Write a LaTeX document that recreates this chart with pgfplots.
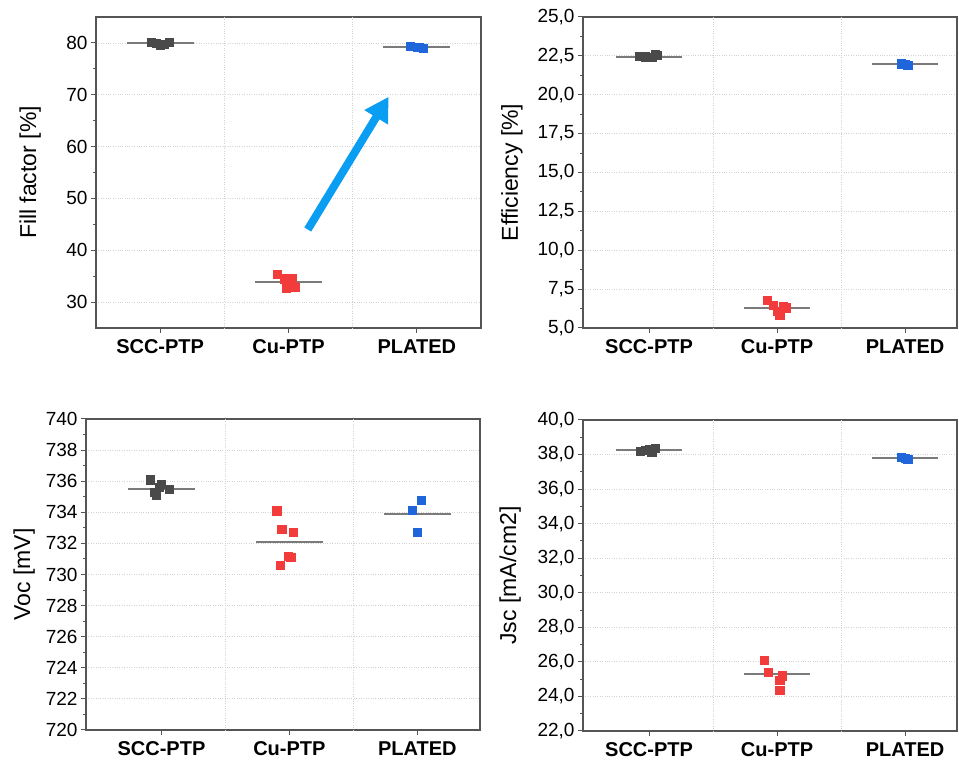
\documentclass[border=0pt]{standalone}
\usepackage{fontspec}
\setmainfont{Liberation Sans}
\usepackage{pgfplots}
\pgfplotsset{compat=1.18}
\usetikzlibrary{arrows.meta}
\definecolor{axisgray}{HTML}{555555}
\definecolor{gridgray}{HTML}{D2D2D2}
\definecolor{medgray}{HTML}{7A7A7A}
\definecolor{sccgray}{HTML}{4A4A4A}
\definecolor{cured}{HTML}{F23B3B}
\definecolor{platblue}{HTML}{1F66DA}
\definecolor{arrowblue}{HTML}{0A9EF2}
\pgfplotsset{
  myaxis/.style={
    scale only axis,
    axis line style={draw=axisgray, line width=1.3bp},
    tick style={draw=axisgray, line width=1bp},
    tick align=outside,
    tick pos=left,
    major tick length=5bp,
    minor tick length=3bp,
    xtick={1,2,3},
    xticklabels={SCC-PTP,Cu-PTP,PLATED},
    xticklabel style={font=\fontsize{20bp}{24bp}\selectfont\bfseries, yshift=-3bp},
    yticklabel style={font=\fontsize{19bp}{22bp}\selectfont},
    ymajorgrids,
    grid style={dotted, draw=gridgray, line width=0.8bp},
    extra x ticks={1.5,2.5},
    extra x tick labels={},
    extra x tick style={xmajorgrids=true, major tick length=0pt},
    minor y tick num=1,
    /pgf/number format/assume math mode=true,
    clip=false,
  },
  ylab/.style={every axis y label/.style={at={(axis description cs:#1,0.5)}, rotate=90, anchor=center, font=\fontsize{23bp}{27bp}\selectfont}},
  dots/.style={only marks, mark=square*, mark size=4.1bp, color=#1},
  med/.style={medgray, line width=2bp, no marks},
  commafmt/.style={yticklabel style={/pgf/number format/.cd, use comma, fixed, fixed zerofill, precision=1}},
}
\begin{document}
\begin{tikzpicture}[x=1bp,y=1bp]
\path[use as bounding box] (0,0) rectangle (959,769);
% ---------- Fill factor ----------
\begin{axis}[myaxis, at={(96bp,441bp)}, anchor=south west,
  width=385bp, height=311bp, xmin=0.5, xmax=3.5, ymin=25, ymax=85,
  ytick={30,40,50,60,70,80},
  ylabel={Fill factor [\%]}, ylab=-0.171]
\addplot[dots=sccgray] coordinates {(0.93,80.1) (0.97,80.0) (1.00,79.5) (1.03,79.8) (1.07,80.2)};
\addplot[dots=cured] coordinates {(1.91,35.4) (1.97,34.5) (2.03,34.6) (1.98,32.7) (2.05,32.9) (2.01,33.4)};
\addplot[dots=platblue] coordinates {(2.95,79.3) (3.00,79.1) (3.05,79.0) (3.02,79.2)};
\addplot[med] coordinates {(0.74,80.0) (1.26,80.0)};
\addplot[med] coordinates {(1.74,33.8) (2.26,33.8)};
\addplot[med] coordinates {(2.74,79.2) (3.26,79.2)};
\draw[line width=8bp, arrowblue, -{Triangle[length=24bp,width=26bp]}] (axis cs:2.15,44) -- (axis cs:2.78,69.6);
\end{axis}
% ---------- Efficiency ----------
\begin{axis}[myaxis, commafmt, at={(583bp,441bp)}, anchor=south west,
  width=374bp, height=311bp, xmin=0.484, xmax=3.406, ymin=5, ymax=25,
  ytick={5,7.5,10,12.5,15,17.5,20,22.5,25},
  ylabel={Efficiency [\%]}, ylab=-0.19]
\addplot[dots=sccgray] coordinates {(0.92,22.5) (0.97,22.45) (1.02,22.4) (1.06,22.55) (1.05,22.6)};
\addplot[dots=cured] coordinates {(1.92,6.8) (1.97,6.45) (2.00,6.1) (2.05,6.4) (2.02,5.85) (2.07,6.3)};
\addplot[dots=platblue] coordinates {(2.97,22.0) (3.02,21.9) (3.00,21.95)};
\addplot[med] coordinates {(0.74,22.45) (1.26,22.45)};
\addplot[med] coordinates {(1.74,6.27) (2.26,6.27)};
\addplot[med] coordinates {(2.74,21.96) (3.26,21.96)};
\end{axis}
% ---------- Voc ----------
\begin{axis}[myaxis, at={(86bp,39bp)}, anchor=south west,
  width=394bp, height=311bp, xmin=0.41, xmax=3.49, ymin=720, ymax=740,
  ytick={720,722,...,740},
  ylabel={Voc [mV]}, ylab=-0.157]
\addplot[dots=sccgray] coordinates {(0.91,736.1) (1.00,735.8) (1.06,735.5) (0.94,735.3) (0.96,735.1) (0.98,735.6)};
\addplot[dots=cured] coordinates {(1.90,734.1) (1.94,732.9) (2.03,732.7) (2.01,731.1) (1.99,731.2) (1.93,730.6)};
\addplot[dots=platblue] coordinates {(3.03,734.8) (2.96,734.15) (3.00,732.7)};
\addplot[med] coordinates {(0.74,735.5) (1.26,735.5)};
\addplot[med] coordinates {(1.74,732.1) (2.26,732.1)};
\addplot[med] coordinates {(2.74,733.9) (3.26,733.9)};
\end{axis}
% ---------- Jsc ----------
\begin{axis}[myaxis, commafmt, at={(583bp,38bp)}, anchor=south west,
  width=374bp, height=311bp, xmin=0.484, xmax=3.406, ymin=22, ymax=40,
  ytick={22,24,...,40},
  ylabel={Jsc [mA/cm2]}, ylab=-0.195]
\addplot[dots=sccgray] coordinates {(0.93,38.2) (0.97,38.25) (1.00,38.3) (1.05,38.35) (1.02,38.15)};
\addplot[dots=cured] coordinates {(1.90,26.1) (1.93,25.4) (2.04,25.2) (2.02,24.95) (2.02,24.35)};
\addplot[dots=platblue] coordinates {(2.97,37.85) (3.02,37.75) (3.00,37.8)};
\addplot[med] coordinates {(0.74,38.26) (1.26,38.26)};
\addplot[med] coordinates {(1.74,25.28) (2.26,25.28)};
\addplot[med] coordinates {(2.74,37.78) (3.26,37.78)};
\end{axis}
\end{tikzpicture}
\end{document}
